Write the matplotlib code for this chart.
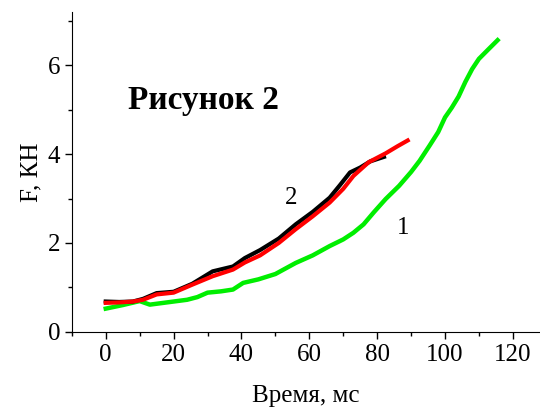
import numpy as np
import matplotlib.pyplot as plt
from matplotlib.ticker import MultipleLocator

plt.rcParams['font.family'] = ['Liberation Serif', 'DejaVu Serif']

# curve 1 (green)
t1 = [0, 5, 10, 13, 18, 24, 27, 30, 34, 37.5, 40.5, 45, 50, 56, 61, 66,
      70, 73, 76, 79, 82.5, 86.5, 90, 92.5, 95.5, 98, 100, 102, 104, 106,
      108, 110, 113, 115.5]
f1 = [0.52, 0.60, 0.69, 0.61, 0.66, 0.72, 0.78, 0.88, 0.91, 0.95, 1.10, 1.18,
      1.30, 1.55, 1.72, 1.93, 2.08, 2.23, 2.42, 2.69, 2.99, 3.29, 3.60, 3.85,
      4.20, 4.50, 4.83, 5.05, 5.30, 5.63, 5.92, 6.15, 6.38, 6.57]

# curve 2 (black)
t2 = [0, 4, 8, 11, 15, 20, 25.5, 31.5, 37.5, 41, 45.5, 51, 56, 61, 66, 69,
      72, 75, 78, 82]
f2 = [0.68, 0.67, 0.68, 0.74, 0.87, 0.90, 1.08, 1.36, 1.47, 1.66, 1.84, 2.10,
      2.42, 2.70, 3.02, 3.30, 3.59, 3.70, 3.84, 3.94]

# red curve
t3 = [0, 4, 8, 11, 15, 20, 25.5, 31.5, 37.5, 41, 45.5, 51, 56, 61, 66, 70,
      73, 77.5, 82.5, 86, 89]
f3 = [0.65, 0.66, 0.68, 0.72, 0.84, 0.88, 1.06, 1.25, 1.40, 1.56, 1.72, 2.00,
      2.31, 2.60, 2.91, 3.22, 3.51, 3.82, 4.02, 4.18, 4.31]

fig, ax = plt.subplots(figsize=(5.4, 4.08), dpi=100)
fig.subplots_adjust(left=0.133, right=1.0, top=0.97, bottom=0.187)

ax.plot(t1, f1, color='#00ee00', lw=3.2)
ax.plot(t2, f2, color='black', lw=3.0)
ax.plot(t3, f3, color='#ff0000', lw=3.0)

ax.text(87.7, 2.33, '1', fontsize=18, ha='center', va='center')
ax.text(54.5, 3.02, '2', fontsize=18, ha='center', va='center')
ax.text(6.5, 5.22, 'Рисунок 2', fontsize=24, fontweight='bold',
        ha='left', va='center')

ax.set_xlim(-10, 128)
ax.set_ylim(0, 7.2)
ax.xaxis.set_major_locator(MultipleLocator(20))
ax.xaxis.set_minor_locator(MultipleLocator(10))
ax.yaxis.set_major_locator(MultipleLocator(2))
ax.yaxis.set_minor_locator(MultipleLocator(1))
ax.tick_params(which='both', direction='out', labelsize=18, width=1)
ax.tick_params(which='major', length=5)
ax.tick_params(which='minor', length=3)
for key in ['top', 'right']:
    ax.spines[key].set_visible(False)

ax.set_xlabel('Время, мс', fontsize=18, labelpad=14)
ax.set_ylabel('F, КН', fontsize=18, labelpad=4)

plt.savefig('out.png', dpi=100)
